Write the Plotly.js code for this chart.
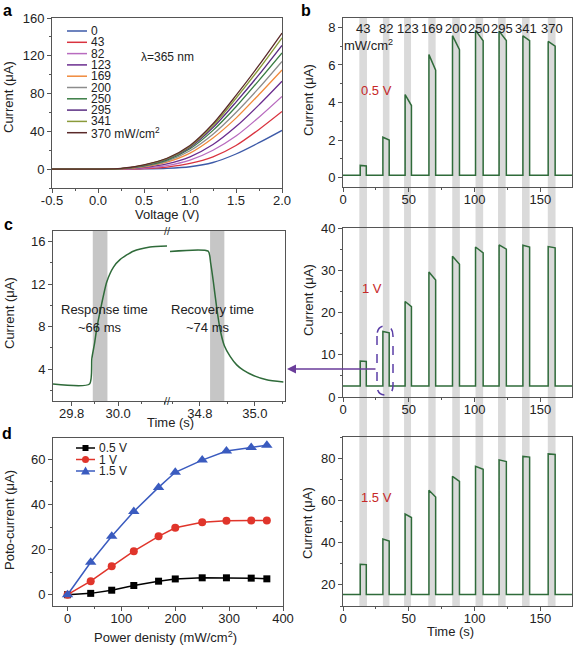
<!DOCTYPE html>
<html><head><meta charset="utf-8">
<script src="https://cdn.plot.ly/plotly-3.0.1.min.js"></script>
<style>html,body{margin:0;padding:0;background:#fff}#chart{width:575px;height:649px}</style>
</head><body><div id="chart"></div>
<script>
// ---------- Panel a : I-V curves ----------
const ivVoltage = [-0.5, 0, 0.25, 0.5, 0.75, 1.0, 1.25, 1.5, 1.75, 2.0];
const ivLabels = ['0', '43', '82', '123', '169', '200', '250', '295', '341', '370 mW/cm<sup>2</sup>'];
const iv_0   = [0, 0, 0.0, 0.2, 0.8, 2.5, 7, 16, 28, 41];
const iv_43  = [0, 0, 0.1, 0.6, 2.2, 6, 13, 25, 42, 61];
const iv_82  = [0, 0, 0.2, 1.2, 3.8, 9.5, 20, 35, 55, 77];
const iv_123 = [0, 0, 0.3, 1.8, 5.5, 13, 26, 45, 68, 93];
const iv_169 = [0, 0, 0.4, 2.5, 7.5, 17, 33, 54, 79, 105];
const iv_200 = [0, 0, 0.5, 3.0, 8.5, 19.5, 37, 60, 86, 114];
const iv_250 = [0, 0, 0.5, 3.5, 9.5, 21.5, 41, 66, 94, 123];
const iv_295 = [0, 0, 0.6, 4.0, 10.5, 23, 44, 71, 100, 131];
const iv_341 = [0, 0, 0.6, 4.3, 11, 24, 46, 75, 106, 139];
const iv_370 = [0, 0, 0.7, 4.6, 11.5, 25, 48, 78, 110, 144];
const ivColors = ['#3d5aa8', '#d9333f', '#b86bbf', '#6b2d8f', '#f08a3c', '#8c8c8c', '#3a7d44', '#5a2d82', '#8a9a3a', '#5a2a2a'];
const ivTickVals = [-0.5, 0, 0.5, 1.0, 1.5, 2.0];
const ivTickText = ['-0.5', '0.0', '0.5', '1.0', '1.5', '2.0'];

// ---------- Panel b : on/off switching ----------
const pulseIntensity = [43, 82, 123, 169, 200, 250, 295, 341, 370];
const lightOn  = [13.1, 30.3, 47.2, 65.3, 83.2, 100.7, 118.6, 136.7, 155.9];
const lightOff = [17.7, 35.1, 52.0, 70.4, 88.5, 106.5, 124.1, 141.8, 161.2];
const bandStart = [12.4, 30.3, 46.4, 64.8, 83.0, 100.7, 117.8, 136.0, 155.6];
const bandEnd   = [18.2, 35.3, 51.7, 70.4, 88.8, 106.5, 123.6, 141.8, 161.5];
const timeEnd = 174;
const base05 = 0.12;
const peak05Start = [0.65, 2.15, 4.42, 6.55, 7.56, 7.84, 7.8, 7.55, 7.25];
const peak05End   = [0.62, 2.0, 3.84, 5.72, 6.81, 7.29, 7.3, 7.3, 7.0];
const base1 = 2.6;
const peak1Start = [8.5, 15.5, 22.6, 29.6, 33.3, 35.5, 36.0, 35.9, 35.6];
const peak1End   = [8.4, 15.2, 21.4, 27.7, 31.4, 34.1, 35.0, 35.5, 35.3];
const base15 = 15.5;
const peak15Start = [29.7, 41.7, 53.5, 64.8, 71.4, 76.1, 79.2, 80.8, 82.0];
const peak15End   = [29.6, 40.8, 51.9, 61.6, 69.0, 74.7, 78.4, 80.5, 81.7];

// ---------- Panel c : response / recovery ----------
const cRiseTime    = [29.72, 29.877, 29.887, 29.898, 29.908, 29.923, 29.951, 29.98, 30.008, 30.065, 30.137, 30.21];
const cRiseCurrent = [2.6, 2.6, 5.0, 6.35, 7.8, 9.5, 12.2, 13.6, 14.3, 15.1, 15.5, 15.6];
const cFallTime    = [34.691, 34.83, 34.839, 34.849, 34.861, 34.873, 34.889, 34.91, 34.934, 34.958, 34.995, 35.043, 35.104];
const cFallCurrent = [15.07, 15.1, 14.0, 12.2, 9.8, 7.8, 6.2, 5.2, 4.4, 3.9, 3.4, 3.0, 2.8];
const cBandRise = [29.891, 29.954];
const cBandFall = [34.837, 34.889];

// ---------- Panel d : photocurrent vs power density ----------
const powerDensity = [0, 43, 82, 123, 169, 200, 250, 295, 341, 370];
const pc05 = [0, 0.6, 2.0, 4.1, 6.0, 7.0, 7.5, 7.5, 7.35, 7.05];
const pc1  = [0, 6.0, 12.6, 19.3, 25.9, 29.7, 32.1, 32.8, 32.9, 32.9];
const pc15 = [0, 14.4, 25.9, 36.9, 47.6, 54.3, 59.7, 63.7, 65.3, 66.3];

// ---------- helpers ----------
const W = 575, H = 649;
const px = x => x / W;
const py = y => 1 - y / H;
const FONT = 'Liberation Sans, Arial, sans-serif';
const green = '#2f6b3a';
const redTxt = '#c62828';

function pulseTrace(base, ps, pe, xa, ya) {
  const x = [0], y = [base];
  for (let i = 0; i < lightOn.length; i++) {
    x.push(lightOn[i], lightOn[i], lightOff[i], lightOff[i]);
    y.push(base, ps[i], pe[i], base);
  }
  x.push(timeEnd); y.push(base);
  return {x, y, xaxis: xa, yaxis: ya, mode: 'lines', line: {color: green, width: 1.5}, showlegend: false, hoverinfo: 'skip'};
}

const traces = [];
const ivSets = [iv_0, iv_43, iv_82, iv_123, iv_169, iv_200, iv_250, iv_295, iv_341, iv_370];
ivSets.forEach((s, i) => traces.push({x: ivVoltage, y: s, xaxis: 'x', yaxis: 'y', mode: 'lines',
  line: {color: ivColors[i], width: 1.3, shape: 'spline', smoothing: 0.8}, showlegend: false}));

traces.push(pulseTrace(base05, peak05Start, peak05End, 'x2', 'y2'));
traces.push(pulseTrace(base1, peak1Start, peak1End, 'x3', 'y3'));
traces.push(pulseTrace(base15, peak15Start, peak15End, 'x4', 'y4'));

traces.push({x: cRiseTime, y: cRiseCurrent, xaxis: 'x5', yaxis: 'y5', mode: 'lines', line: {color: green, width: 1.5, shape: 'spline', smoothing: 0.6}, showlegend: false});
traces.push({x: cFallTime, y: cFallCurrent, xaxis: 'x6', yaxis: 'y6', mode: 'lines', line: {color: green, width: 1.5, shape: 'spline', smoothing: 0.6}, showlegend: false});

const dSeries = [
  {y: pc05, color: '#000000', symbol: 'square', size: 7, name: '0.5 V'},
  {y: pc1, color: '#e0352b', symbol: 'circle', size: 8, name: '1 V'},
  {y: pc15, color: '#3a5bbf', symbol: 'triangle-up', size: 10, name: '1.5 V'}
];
dSeries.forEach(s => traces.push({x: powerDensity, y: s.y, xaxis: 'x7', yaxis: 'y7', mode: 'lines+markers',
  line: {color: s.color, width: 1.5}, marker: {color: s.color, symbol: s.symbol, size: s.size}, showlegend: false}));

function axis(extra) {
  return Object.assign({showline: true, linecolor: '#555', linewidth: 1, mirror: true, ticks: 'outside', ticklen: 4,
    tickcolor: '#555', tickwidth: 1, showgrid: false, zeroline: false, fixedrange: true,
    tickfont: {size: 13, color: '#222', family: FONT}}, extra);
}
function xaxisDef(extra) { return axis(Object.assign({ticklabelstandoff: -4}, extra)); }
function minor(d, t0) { return {ticks: 'outside', ticklen: 2, dtick: d, tick0: t0 === undefined ? 0 : t0, tickcolor: '#555', showgrid: false}; }

const bX = [px(343), px(572)];
const layout = {
  width: W, height: H, margin: {l: 0, r: 0, t: 0, b: 0},
  paper_bgcolor: '#fff', plot_bgcolor: 'rgba(0,0,0,0)', showlegend: false,
  font: {family: FONT, size: 13, color: '#222'},
  xaxis: xaxisDef({domain: [px(52), px(282)], range: [-0.5, 2.0], tickvals: ivTickVals, ticktext: ivTickText, anchor: 'y', minor: minor(0.25, -0.5)}),
  yaxis: axis({domain: [py(188), py(18)], range: [-20, 160], dtick: 40, anchor: 'x', minor: minor(20)}),
  xaxis2: xaxisDef({domain: bX, range: [0, timeEnd], dtick: 50, anchor: 'y2', minor: minor(25)}),
  yaxis2: axis({domain: [py(187), py(18)], range: [-0.5, 8.5], dtick: 2, anchor: 'x2', minor: minor(1)}),
  xaxis3: xaxisDef({domain: bX, range: [0, timeEnd], dtick: 50, anchor: 'y3', minor: minor(25)}),
  yaxis3: axis({domain: [py(397), py(228)], range: [0, 40], dtick: 10, anchor: 'x3', minor: minor(5)}),
  xaxis4: xaxisDef({domain: bX, range: [0, timeEnd], dtick: 50, anchor: 'y4', minor: minor(25)}),
  yaxis4: axis({domain: [py(606), py(437)], range: [10, 90], dtick: 20, tick0: 0, anchor: 'x4', minor: minor(10)}),
  xaxis5: xaxisDef({domain: [px(53), px(167)], range: [29.72, 30.21], tickvals: [29.8, 30.0], ticktext: ['29.8', '30.0'], anchor: 'y5', minor: minor(0.1, 29.8)}),
  yaxis5: axis({domain: [py(401), py(231)], range: [1, 17], dtick: 4, anchor: 'x5', mirror: false, minor: minor(2)}),
  xaxis6: xaxisDef({domain: [px(167), px(285)], range: [34.68, 35.11], tickvals: [34.8, 35.0], ticktext: ['34.8', '35.0'], anchor: 'y6', minor: minor(0.1, 34.8)}),
  yaxis6: axis({domain: [py(401), py(231)], range: [1, 17], anchor: 'x6', side: 'right', mirror: false, ticks: '', showticklabels: false}),
  xaxis7: xaxisDef({domain: [px(53), px(283)], range: [-27, 400], dtick: 100, anchor: 'y7', minor: minor(50)}),
  yaxis7: axis({domain: [py(606), py(438)], range: [-5, 69.5], dtick: 20, anchor: 'x7', minor: minor(10)}),
  shapes: [], annotations: []
};

// shading bands in b (spanning all three panels)
for (let i = 0; i < bandStart.length; i++) {
  layout.shapes.push({type: 'rect', xref: 'x2', yref: 'paper', x0: bandStart[i], x1: bandEnd[i], y0: py(606), y1: py(18),
    fillcolor: '#dadada', line: {width: 0}, layer: 'below'});
}
// bands in c
layout.shapes.push({type: 'rect', xref: 'x5', yref: 'y5', x0: cBandRise[0], x1: cBandRise[1], y0: 1, y1: 17, fillcolor: '#c6c6c6', line: {width: 0}, layer: 'below'});
layout.shapes.push({type: 'rect', xref: 'x6', yref: 'y6', x0: cBandFall[0], x1: cBandFall[1], y0: 1, y1: 17, fillcolor: '#c6c6c6', line: {width: 0}, layer: 'below'});

const A = layout.annotations;
function txt(x, y, text, opt) {
  A.push(Object.assign({xref: 'paper', yref: 'paper', x: px(x), y: py(y), text: text, showarrow: false,
    xanchor: 'center', yanchor: 'middle', font: {size: 13, color: '#222', family: FONT}}, opt || {}));
}

// legend a (manual)
ivSets.forEach((s, i) => {
  const yy = 31 + 11.3 * i;
  layout.shapes.push({type: 'line', xref: 'paper', yref: 'paper', x0: px(67), x1: px(87), y0: py(yy), y1: py(yy), line: {color: ivColors[i], width: 1.5}});
  txt(89, yy, ivLabels[i], {xanchor: 'left', font: {size: 12, color: '#222', family: FONT}});
});
txt(167, 57, 'λ=365 nm', {font: {size: 12, color: '#222', family: FONT}});

// legend d (manual)
const dRows = [448, 459.5, 471];
dSeries.forEach((s, i) => {
  const yy = dRows[i];
  layout.shapes.push({type: 'line', xref: 'paper', yref: 'paper', x0: px(76), x1: px(95), y0: py(yy), y1: py(yy), line: {color: s.color, width: 1.5}});
  if (s.symbol === 'square') {
    layout.shapes.push({type: 'rect', xref: 'paper', yref: 'paper', x0: px(82.5), x1: px(88.5), y0: py(yy + 3), y1: py(yy - 3), fillcolor: s.color, line: {width: 0}});
  } else if (s.symbol === 'circle') {
    layout.shapes.push({type: 'circle', xref: 'paper', yref: 'paper', x0: px(82), x1: px(89), y0: py(yy + 3.5), y1: py(yy - 3.5), fillcolor: s.color, line: {width: 0}});
  } else {
    layout.shapes.push({type: 'path', xref: 'paper', yref: 'paper',
      path: `M${px(85.5)},${py(yy - 4.5)} L${px(81)},${py(yy + 3.5)} L${px(90)},${py(yy + 3.5)} Z`, fillcolor: s.color, line: {width: 0}});
  }
  txt(97, yy, s.name, {xanchor: 'left', font: {size: 12, color: '#222', family: FONT}});
});

// b labels
pulseIntensity.forEach((v, i) => {
  A.push({xref: 'x2', yref: 'paper', x: (bandStart[i] + bandEnd[i]) / 2, y: py(28), text: String(v), showarrow: false,
    xanchor: 'center', yanchor: 'middle', font: {size: 13, color: '#222', family: FONT}});
});
txt(368, 45, 'mW/cm<sup>2</sup>');
txt(376, 91, '0.5 V', {font: {size: 13, color: redTxt, family: FONT}});
txt(372, 288, '1 V', {font: {size: 13, color: redTxt, family: FONT}});
txt(376, 497, '1.5 V', {font: {size: 13, color: redTxt, family: FONT}});

// c labels
txt(104, 310, 'Response time');
txt(99, 327, '~66 ms');
txt(212, 310, 'Recovery time');
txt(207, 327, '~74 ms');
txt(167, 231, '//', {font: {size: 11, color: '#333', family: FONT}});
txt(167, 401, '//', {font: {size: 11, color: '#333', family: FONT}});

// axis titles
txt(9, 97, 'Current (μA)', {textangle: -90});
txt(167, 214, 'Voltage (V)');
txt(309, 100, 'Current (μA)', {textangle: -90});
txt(308, 300, 'Current (μA)', {textangle: -90});
txt(307, 523, 'Current (μA)', {textangle: -90});
txt(450, 631, 'Time (s)');
txt(9, 313, 'Current (μA)', {textangle: -90});
txt(170, 422, 'Time (s)');
txt(9, 520, 'Poto-current (μA)', {textangle: -90});
txt(165, 637, 'Power denisty (mW/cm<sup>2</sup>)');

// panel letters
const bold = {size: 16, color: '#000', family: FONT, weight: 'bold'};
txt(7, 0, '<b>a</b>', {font: bold, yanchor: 'top'});
txt(306, 0, '<b>b</b>', {font: bold, yanchor: 'top'});
txt(8, 224, '<b>c</b>', {font: bold});
txt(7, 433, '<b>d</b>', {font: bold});

// dashed highlight around pulse 2 in b (1 V) and arrow to c
const P = (x, y) => `${px(x)},${py(y)}`;
layout.shapes.push({type: 'path', xref: 'paper', yref: 'paper',
  path: `M${P(377, 336)} L${P(377, 385)} Q${P(377, 395)} ${P(385, 395)} Q${P(393, 395)} ${P(393, 385)} L${P(393, 336)} Q${P(393, 326)} ${P(385, 326)} Q${P(377, 326)} ${P(377, 336)} Z`,
  line: {color: '#5b3ea6', width: 1.5, dash: 'dash'}});
A.push({xref: 'paper', yref: 'paper', x: px(287), y: py(369), ax: 90, ay: 0, text: '', showarrow: true,
  arrowhead: 2, arrowsize: 1.2, arrowwidth: 1.5, arrowcolor: '#6a3d9a', standoff: 0});

Plotly.newPlot('chart', traces, layout, {staticPlot: true, displayModeBar: false});
</script>
</body></html>
